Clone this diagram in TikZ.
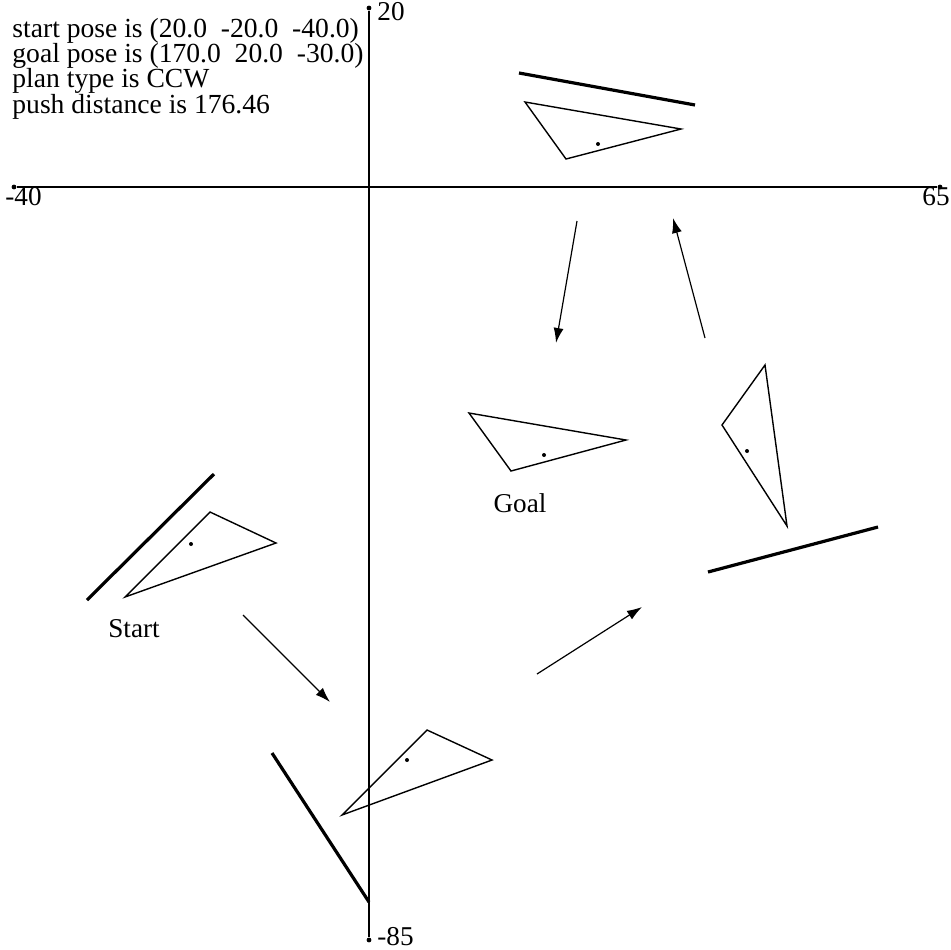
\documentclass[tikz,border=0pt]{standalone}
\usepackage{fontspec}
\setmainfont{Liberation Serif}
\usetikzlibrary{arrows.meta}
\begin{document}
\begin{tikzpicture}[x=0.5pt,y=-0.5pt,axis/.style={line width=0.7pt},tri/.style={line width=0.7pt,line join=miter},wall/.style={line width=1.6pt},move/.style={line width=0.6pt,-{Latex[length=7.5pt,width=5pt]}},lbl/.style={font=\fontsize{13.6}{12.4}\selectfont,inner sep=0pt},tick/.style={circle,fill=black,inner sep=0pt,minimum size=2.4pt},cg/.style={circle,fill=black,inner sep=0pt,minimum size=2pt}]
\useasboundingbox (0,0) rectangle (951,949);

% axes
\node[tick] (xmin) at (14,187) {};
\node[tick] (xmax) at (940,187) {};
\node[tick] (ymax) at (369,8) {};
\node[tick] (ymin) at (369,940) {};
\draw[axis] (xmin) -- (xmax);
\draw[axis] (ymax) -- (ymin);
\node[lbl,anchor=north west] (lxmin) at (5,187) {-40};
\node[lbl,anchor=north east] (lxmax) at (950,187) {65};
\node[lbl,anchor=west] (lymax) at (377,12) {20};
\node[lbl,anchor=west] (lymin) at (377,937) {-85};

% plan info
\node[lbl,anchor=north west,align=left,font={\fontsize{13.8}{12.6}\selectfont\lineskiplimit=-100pt}] (info) at (12,18) {start pose is (20.0\ \ -20.0\ \ -40.0)\\goal pose is (170.0\ \ 20.0\ \ -30.0)\\plan type is CCW\\push distance is 176.46};

% start pose
\draw[wall] (214,474) -- (87,600);
\draw[tri] (210,512) -- (276,543) -- (125,597) -- cycle;
\node[cg] (cs) at (191,544) {};
\node[lbl] (start) at (134,629) {Start};

% first switch
\draw[wall] (272,753) -- (369,902);
\draw[tri] (427,730) -- (492,760) -- (342,815) -- cycle;
\node[cg] (c1) at (407,760) {};

% second switch
\draw[wall] (708,572) -- (878,527);
\draw[tri] (765,365) -- (722,425) -- (787,526) -- cycle;
\node[cg] (c2) at (747,451) {};

% third switch
\draw[wall] (519,73) -- (695,105);
\draw[tri] (525,102) -- (681,129) -- (566,159) -- cycle;
\node[cg] (c3) at (598,144) {};

% goal pose
\draw[tri] (469,413) -- (626,440) -- (511,471) -- cycle;
\node[cg] (cg) at (544,455) {};
\node[lbl] (goal) at (520,503) {Goal};

% pushes
\coordinate (m1a) at (243,615);
\coordinate (m1b) at (330,702);
\coordinate (m2a) at (537,674);
\coordinate (m2b) at (642,607);
\coordinate (m3a) at (705,338);
\coordinate (m3b) at (673,218);
\coordinate (m4a) at (577,221);
\coordinate (m4b) at (556,343);
\draw[move] (m1a) -- (m1b);
\draw[move] (m2a) -- (m2b);
\draw[move] (m3a) -- (m3b);
\draw[move] (m4a) -- (m4b);
\end{tikzpicture}
\end{document}
